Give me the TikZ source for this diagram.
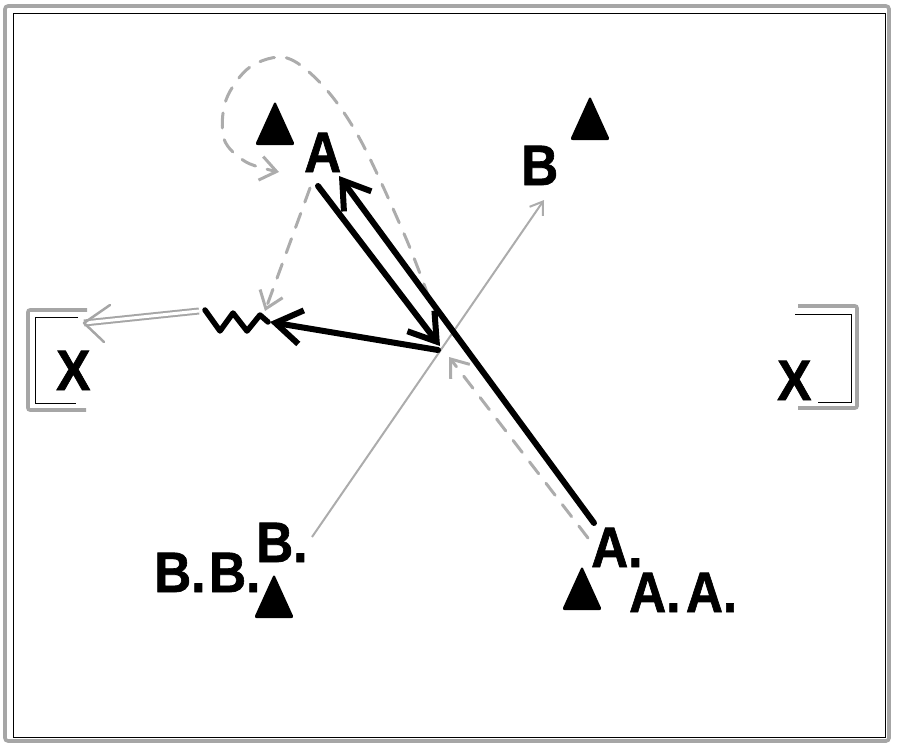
\documentclass[tikz,border=0pt]{standalone}
\usepackage{fontspec}
\setmainfont{Liberation Sans}
\usetikzlibrary{arrows.meta}
\begin{document}
\begin{tikzpicture}[x=1pt,y=-1pt,
  lab/.style={inner sep=0pt, anchor=base west, font=\fontsize{57}{60}\selectfont\bfseries\addfontfeatures{FakeBold=1.2}},
  pass/.style={black, line width=6pt, line cap=round, line join=round},
  passhead/.style={-{Straight Barb[length=26pt,width=34pt]}},
  run/.style={gray!65, line width=3pt, line cap=round, dash pattern=on 15pt off 12pt},
  runhead/.style={-{Straight Barb[length=16pt,width=24pt]}},
  ballline/.style={gray!65, line width=2pt, -{Straight Barb[length=12pt,width=16pt]}},
  framegray/.style={gray!70, line width=3.6pt},
  thinblack/.style={black, line width=0.8pt},
  cone/.pic={\fill[black, rounded corners=2.5pt] (-20,21) -- (0,-23) -- (20,21) -- cycle;}
]
\useasboundingbox (0,0) rectangle (900,752);
% frame
\draw[framegray, rounded corners=3pt] (5,6) rectangle (889,741);
\draw[thinblack] (13,13) rectangle (885,737);
% goals
\draw[framegray, rounded corners=2pt] (87,310) -- (28,310) -- (28,410) -- (86,410);
\draw[thinblack] (78,317) -- (35,317) -- (35,403) -- (76,403);
\draw[framegray, rounded corners=2pt] (798,306) -- (857,306) -- (857,408) -- (798,408);
\draw[thinblack] (795,314) -- (851,314) -- (851,402) -- (818,402);
% cones
\pic (coneA) at (275,124) {cone};
\pic (coneB) at (590,119) {cone};
\pic (coneBB) at (274,597) {cone};
\pic (coneAA) at (582,589) {cone};
% labels
\node[lab] (lA) at (304,172) {\scalebox{0.9}[1]{A}};
\node[lab] (lB) at (521,185) {\scalebox{0.9}[1]{B}};
\node[lab] (lBd) at (256,562) {\scalebox{0.9}[1]{B.}};
\node[lab] (lBB) at (154,592) {\scalebox{0.9}[1]{B.\kern4ptB.}};
\node[lab] (lAd) at (591,567) {\scalebox{0.9}[1]{A.}};
\node[lab] (lAA) at (629,612) {\scalebox{0.9}[1]{A.\kern6ptA.}};
\node[lab] (lX1) at (56,390) {\scalebox{0.9}[1]{X}};
\node[lab] (lX2) at (777,400) {\scalebox{0.9}[1]{X}};
% coordinates
\coordinate (Adot) at (318,186);
\coordinate (C1) at (440,346);
\coordinate (Ap) at (594,523);
\coordinate (L2tip) at (339,176);
\coordinate (Cs) at (438,350);
\coordinate (Wtip) at (270,322);
\coordinate (w0) at (268,322);
\coordinate (w1) at (260,315);
\coordinate (w2) at (247,331);
\coordinate (w3) at (233,313);
\coordinate (w4) at (220,331);
\coordinate (w5) at (205,310);
\coordinate (s0) at (199,311);
\coordinate (s1) at (84,323);
\coordinate (hb1) at (110,305);
\coordinate (hb2) at (104,342);
\coordinate (Bp) at (312,537);
\coordinate (Btip) at (544,200);
\coordinate (Apr) at (588,538);
\coordinate (Crun) at (449,357);
\coordinate (Ar) at (310,188);
\coordinate (Wr) at (265,311);
\coordinate (Lstart) at (429,298);
\coordinate (Lend) at (279,172);
% ball line B. -> B
\draw[ballline] (Bp) -- (Btip);
% runs
\draw[run, runhead] (Apr) -- (Crun);
\draw[run, runhead] (Ar) -- (Wr);
\draw[run, runhead] plot[smooth, tension=0.55] coordinates
  {(Lstart) (405,236) (361,141) (325,88) (287,58) (250,67) (226,100) (224,139) (246,162) (Lend)};
% shot (double line)
\draw[gray!70, line width=2pt, double=white, double distance=3pt] (s0) -- (s1);
\draw[gray!70, line width=2.5pt, line cap=round, line join=round] (hb1) -- (s1) -- (hb2);
% passes
\draw[pass, passhead] (Adot) -- (C1);
\draw[pass, passhead] (Ap) -- (L2tip);
\draw[pass, passhead] (Cs) -- (Wtip);
% dribble zigzag
\draw[pass, line width=5.5pt] (w0) -- (w1) -- (w2) -- (w3) -- (w4) -- (w5);
\end{tikzpicture}
\end{document}
